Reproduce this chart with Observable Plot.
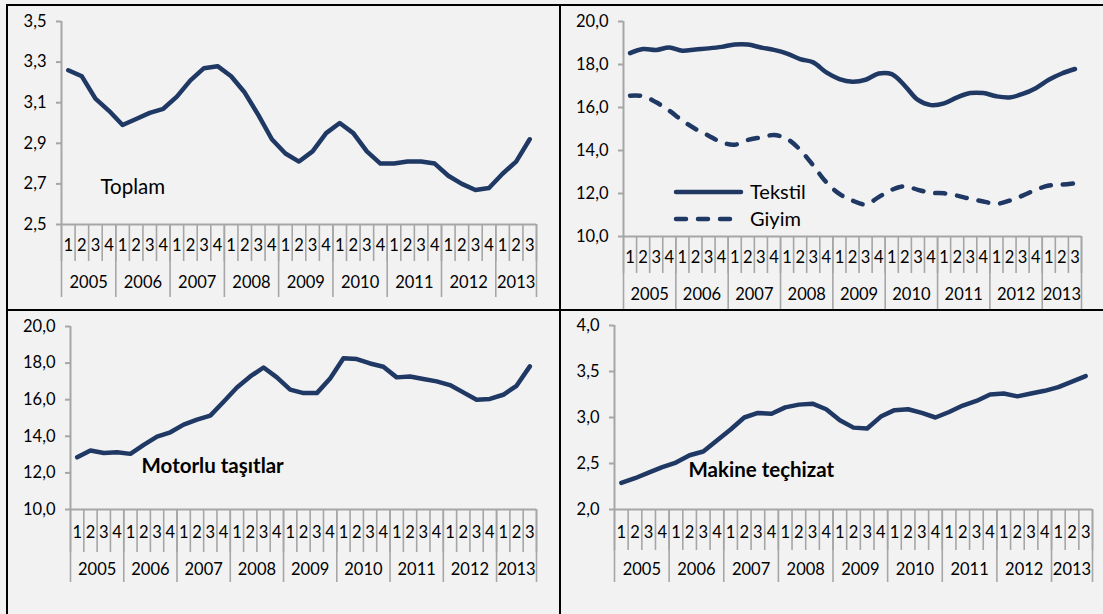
<!DOCTYPE html>
<html>
<head>
<meta charset="utf-8">
<script src="https://cdn.jsdelivr.net/npm/d3@7"></script>
<script src="https://cdn.jsdelivr.net/npm/@observablehq/plot@0.6"></script>
<style>
  html, body { margin: 0; padding: 0; background: #f2f2f2; }
  #wrap { position: relative; width: 1103px; height: 614px; background: #f2f2f2; overflow: hidden; font-family: Lato, "Open Sans", sans-serif; }
  .b { position: absolute; background: #000; }
  .panel { position: absolute; }
  .panel svg { overflow: visible; }
</style>
</head>
<body>
<div id="wrap">
  <div class="panel" id="p1" style="left:8px;top:6px;width:551px;height:303px"></div>
  <div class="panel" id="p2" style="left:561px;top:6px;width:542px;height:303px"></div>
  <div class="panel" id="p3" style="left:8px;top:311px;width:551px;height:303px"></div>
  <div class="panel" id="p4" style="left:561px;top:311px;width:542px;height:303px"></div>
  <div class="b" style="left:6px;top:4px;width:1097px;height:2px"></div>
  <div class="b" style="left:6px;top:4px;width:2px;height:610px"></div>
  <div class="b" style="left:559px;top:4px;width:2px;height:610px"></div>
  <div class="b" style="left:6px;top:309px;width:1097px;height:2px"></div>
</div>
<script>
// ---- data ----
const yearLabels = ["2005","2006","2007","2008","2009","2010","2011","2012","2013"];
const quartersPerYear = [4,4,4,4,4,4,4,4,3];
const quarterLabels = ["1","2","3","4","1","2","3","4","1","2","3","4","1","2","3","4",
  "1","2","3","4","1","2","3","4","1","2","3","4","1","2","3","4","1","2","3"];

const toplam = [3.26,3.23,3.12,3.06,2.99,3.02,3.05,3.07,3.13,3.21,3.27,3.28,3.23,3.15,3.04,2.92,
  2.85,2.81,2.86,2.95,3.00,2.95,2.86,2.80,2.80,2.81,2.81,2.80,2.74,2.70,2.67,2.68,2.75,2.81,2.92];
const tekstil = [18.53,18.72,18.68,18.79,18.64,18.70,18.75,18.82,18.93,18.93,18.79,18.68,18.51,18.25,18.10,17.63,
  17.32,17.20,17.29,17.58,17.55,17.01,16.35,16.11,16.19,16.47,16.67,16.67,16.52,16.47,16.63,16.90,17.29,17.58,17.79];
const giyim = [16.55,16.53,16.24,15.85,15.39,15.00,14.69,14.38,14.27,14.49,14.61,14.72,14.54,14.03,13.30,12.52,
  11.98,11.67,11.49,11.83,12.17,12.34,12.17,12.03,12.01,11.90,11.75,11.63,11.52,11.67,11.90,12.17,12.37,12.41,12.48];
const motorlu = [12.85,13.22,13.09,13.13,13.04,13.53,13.98,14.22,14.64,14.91,15.13,15.89,16.67,17.27,17.76,17.22,
  16.55,16.36,16.36,17.16,18.27,18.22,17.98,17.80,17.22,17.27,17.13,17.00,16.80,16.40,16.00,16.04,16.27,16.76,17.82];
const makine = [2.29,2.34,2.40,2.46,2.51,2.59,2.63,2.75,2.87,3.00,3.05,3.04,3.11,3.14,3.15,3.09,
  2.97,2.89,2.88,3.01,3.08,3.09,3.05,3.00,3.06,3.13,3.18,3.25,3.26,3.23,3.26,3.29,3.33,3.39,3.45];

const yTicks1 = [2.5,2.7,2.9,3.1,3.3,3.5];
const yTicks2 = [10,12,14,16,18,20];
const yTicks4 = [2.0,2.5,3.0,3.5,4.0];

// ---- helpers ----
const N = quarterLabels.length;
const navy = "#1f3864";
const gray = "#a6a6a6";
const tickFont = 16.5;
const fmt = d => d.toFixed(1).replace(".", ",");
const idx = d3.range(N);
const centers = idx.map(i => i + 0.5);
const bounds = d3.range(N + 1);
const yearStarts = d3.cumsum([0, ...quartersPerYear]);          // boundaries
const yearCenters = quartersPerYear.map((q, i) => yearStarts[i] + q / 2);

function panel(el, {width, height, margins, yDomain, yTicks, series, qSep, ySep, qPad, yPad, title, titleBold, titleDx, titleDy, titleSize}) {
  const marks = [
    Plot.ruleY([yDomain[0]], {stroke: gray, strokeWidth: 2}),
    Plot.ruleX([0], {stroke: gray, strokeWidth: 2}),
    Plot.axisY(yTicks, {tickSize: 5, tickPadding: 10, tickFormat: fmt, stroke: gray, strokeWidth: 2, fill: "#000", label: null, fontSize: tickFont}),
    Plot.axisX(bounds, {tickSize: qSep, tickFormat: () => "", stroke: gray, strokeWidth: 1.6, label: null}),
    Plot.axisX(yearStarts, {tickSize: ySep, tickFormat: () => "", stroke: gray, strokeWidth: 1.6, label: null}),
    Plot.axisX(centers, {tickSize: 0, tickPadding: qPad, tickFormat: d => quarterLabels[Math.floor(d)], fill: "#000", label: null, fontSize: tickFont}),
    Plot.axisX(yearCenters, {tickSize: 0, tickPadding: yPad, tickFormat: (d, i) => yearLabels[i], fill: "#000", label: null, fontSize: tickFont})
  ];
  for (const s of series) {
    marks.push(Plot.lineY(s.values, {x: (d, i) => i + 0.5, y: d => d, stroke: navy, strokeWidth: 4.5,
      strokeLinecap: "round", strokeLinejoin: "round", curve: s.curve || "linear", strokeDasharray: s.dash}));
  }
  if (title) {
    marks.push(Plot.text([title], {frameAnchor: "bottom-left", dx: titleDx, dy: titleDy, textAnchor: "start",
      fontSize: titleSize, fontWeight: titleBold ? "bold" : "normal", fill: "#000"}));
  }
  const chart = Plot.plot({
    width, height,
    marginLeft: margins[0], marginRight: margins[1], marginTop: margins[2], marginBottom: margins[3],
    x: {domain: [0, N], axis: null},
    y: {domain: yDomain, axis: null},
    style: {fontFamily: "Lato, 'Open Sans', sans-serif", fontSize: tickFont + "px", background: "transparent", color: "#000", overflow: "visible"},
    marks
  });
  document.getElementById(el).appendChild(chart);
}

panel("p1", {width: 551, height: 303, margins: [53, 23, 15, 85], yDomain: [2.5, 3.5], yTicks: yTicks1,
  series: [{values: toplam}], qSep: 37, ySep: 73, qPad: 15, yPad: 52,
  title: "Toplam", titleBold: false, titleDx: 39, titleDy: -31, titleSize: 20.5});

panel("p2", {width: 542, height: 303, margins: [62, 22, 15, 73], yDomain: [10, 20], yTicks: yTicks2,
  series: [{values: tekstil, curve: "catmull-rom"}, {values: giyim, curve: "catmull-rom", dash: "10,12"}],
  qSep: 37, ySep: 73, qPad: 15, yPad: 52});

panel("p3", {width: 551, height: 303, margins: [62, 23, 15, 105], yDomain: [10, 20], yTicks: yTicks2,
  series: [{values: motorlu}], qSep: 43, ySep: 73, qPad: 17, yPad: 54,
  title: "Motorlu taşıtlar", titleBold: true, titleDx: 71, titleDy: -37, titleSize: 20.5});

panel("p4", {width: 542, height: 303, margins: [53, 11, 14, 105], yDomain: [2, 4], yTicks: yTicks4,
  series: [{values: makine}], qSep: 41, ySep: 73, qPad: 17, yPad: 54,
  title: "Makine teçhizat", titleBold: true, titleDx: 74, titleDy: -33, titleSize: 20.5});

// legend for panel 2
const ns = "http://www.w3.org/2000/svg";
const lg = document.createElementNS(ns, "svg");
lg.setAttribute("width", 542); lg.setAttribute("height", 303);
lg.style.position = "absolute"; lg.style.left = "0"; lg.style.top = "0"; lg.style.pointerEvents = "none";
const legendItems = [{name: "Tekstil", dash: null, y: 186}, {name: "Giyim", dash: "10,12", y: 213}];
for (const it of legendItems) {
  const l = document.createElementNS(ns, "line");
  l.setAttribute("x1", 115); l.setAttribute("x2", 180); l.setAttribute("y1", it.y); l.setAttribute("y2", it.y);
  l.setAttribute("stroke", navy); l.setAttribute("stroke-width", 4.5); l.setAttribute("stroke-linecap", "round");
  if (it.dash) l.setAttribute("stroke-dasharray", it.dash);
  lg.appendChild(l);
  const t = document.createElementNS(ns, "text");
  t.setAttribute("x", 189); t.setAttribute("y", it.y); t.setAttribute("dy", "0.35em");
  t.setAttribute("font-family", "Lato, 'Open Sans', sans-serif"); t.setAttribute("font-size", 20); t.setAttribute("fill", "#000");
  t.textContent = it.name;
  lg.appendChild(t);
}
document.getElementById("p2").appendChild(lg);
</script>
</body>
</html>
